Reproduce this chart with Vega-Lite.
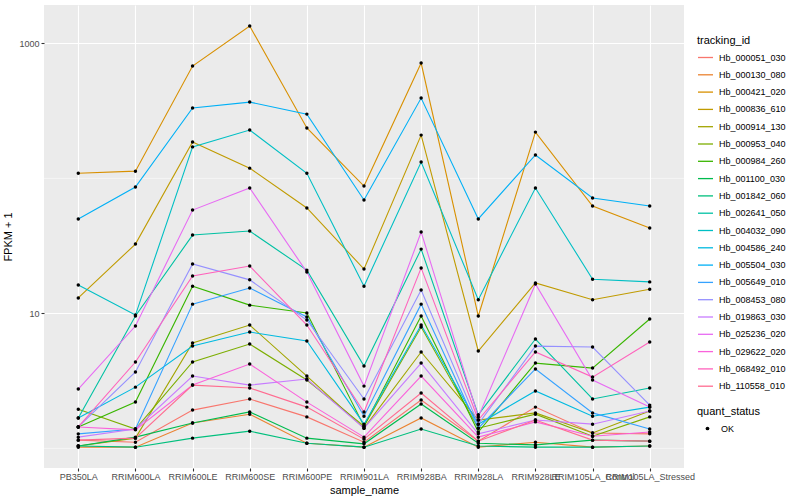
{
"$schema": "https://vega.github.io/schema/vega-lite/v6.json",
"width": 640, "height": 463,
"autosize": {"type": "none"},
"padding": {"left": 44, "top": 5, "right": 116, "bottom": 32},
"background": "white",
"config": {
  "font": "Liberation Sans",
  "view": {"fill": "#EBEBEB", "stroke": null},
  "axis": {"domain": false, "grid": true, "gridColor": "white", "gridWidth": 1.1, "tickColor": "#333333", "tickSize": 3, "tickWidth": 1.1, "labelColor": "#4D4D4D", "labelFontSize": 9, "titleFontSize": 11, "titleFontWeight": "normal", "titleColor": "black", "labelFont": "Liberation Sans", "titleFont": "Liberation Sans"},
  "legend": {"padding": 0, "labelFont": "Liberation Sans", "titleFont": "Liberation Sans", "labelFontSize": 9, "titleFontSize": 11, "titleFontWeight": "normal", "labelColor": "black", "titleColor": "black"}
},
"data": {"values": [
{"tracking_id":"Hb_000051_030","sample_name":"PB350LA","fpkm":1.15,"quant_status":"OK"},
{"tracking_id":"Hb_000051_030","sample_name":"RRIM600LA","fpkm":1.11,"quant_status":"OK"},
{"tracking_id":"Hb_000051_030","sample_name":"RRIM600LE","fpkm":1.92,"quant_status":"OK"},
{"tracking_id":"Hb_000051_030","sample_name":"RRIM600SE","fpkm":2.32,"quant_status":"OK"},
{"tracking_id":"Hb_000051_030","sample_name":"RRIM600PE","fpkm":1.71,"quant_status":"OK"},
{"tracking_id":"Hb_000051_030","sample_name":"RRIM901LA","fpkm":1.11,"quant_status":"OK"},
{"tracking_id":"Hb_000051_030","sample_name":"RRIM928BA","fpkm":2.28,"quant_status":"OK"},
{"tracking_id":"Hb_000051_030","sample_name":"RRIM928LA","fpkm":1.13,"quant_status":"OK"},
{"tracking_id":"Hb_000051_030","sample_name":"RRIM928LE","fpkm":2.02,"quant_status":"OK"},
{"tracking_id":"Hb_000051_030","sample_name":"RRIM105LA_Control","fpkm":1.30,"quant_status":"OK"},
{"tracking_id":"Hb_000051_030","sample_name":"RRIM105LA_Stressed","fpkm":1.28,"quant_status":"OK"},
{"tracking_id":"Hb_000130_080","sample_name":"PB350LA","fpkm":1.02,"quant_status":"OK"},
{"tracking_id":"Hb_000130_080","sample_name":"RRIM600LA","fpkm":1.02,"quant_status":"OK"},
{"tracking_id":"Hb_000130_080","sample_name":"RRIM600LE","fpkm":1.54,"quant_status":"OK"},
{"tracking_id":"Hb_000130_080","sample_name":"RRIM600SE","fpkm":1.79,"quant_status":"OK"},
{"tracking_id":"Hb_000130_080","sample_name":"RRIM600PE","fpkm":1.09,"quant_status":"OK"},
{"tracking_id":"Hb_000130_080","sample_name":"RRIM901LA","fpkm":1.02,"quant_status":"OK"},
{"tracking_id":"Hb_000130_080","sample_name":"RRIM928BA","fpkm":1.68,"quant_status":"OK"},
{"tracking_id":"Hb_000130_080","sample_name":"RRIM928LA","fpkm":1.02,"quant_status":"OK"},
{"tracking_id":"Hb_000130_080","sample_name":"RRIM928LE","fpkm":1.11,"quant_status":"OK"},
{"tracking_id":"Hb_000130_080","sample_name":"RRIM105LA_Control","fpkm":1.02,"quant_status":"OK"},
{"tracking_id":"Hb_000130_080","sample_name":"RRIM105LA_Stressed","fpkm":1.04,"quant_status":"OK"},
{"tracking_id":"Hb_000421_020","sample_name":"PB350LA","fpkm":109,"quant_status":"OK"},
{"tracking_id":"Hb_000421_020","sample_name":"RRIM600LA","fpkm":113,"quant_status":"OK"},
{"tracking_id":"Hb_000421_020","sample_name":"RRIM600LE","fpkm":679,"quant_status":"OK"},
{"tracking_id":"Hb_000421_020","sample_name":"RRIM600SE","fpkm":1343,"quant_status":"OK"},
{"tracking_id":"Hb_000421_020","sample_name":"RRIM600PE","fpkm":236,"quant_status":"OK"},
{"tracking_id":"Hb_000421_020","sample_name":"RRIM901LA","fpkm":87.7,"quant_status":"OK"},
{"tracking_id":"Hb_000421_020","sample_name":"RRIM928BA","fpkm":715,"quant_status":"OK"},
{"tracking_id":"Hb_000421_020","sample_name":"RRIM928LA","fpkm":9.55,"quant_status":"OK"},
{"tracking_id":"Hb_000421_020","sample_name":"RRIM928LE","fpkm":220,"quant_status":"OK"},
{"tracking_id":"Hb_000421_020","sample_name":"RRIM105LA_Control","fpkm":62.4,"quant_status":"OK"},
{"tracking_id":"Hb_000421_020","sample_name":"RRIM105LA_Stressed","fpkm":42.9,"quant_status":"OK"},
{"tracking_id":"Hb_000836_610","sample_name":"PB350LA","fpkm":13.0,"quant_status":"OK"},
{"tracking_id":"Hb_000836_610","sample_name":"RRIM600LA","fpkm":32.6,"quant_status":"OK"},
{"tracking_id":"Hb_000836_610","sample_name":"RRIM600LE","fpkm":186,"quant_status":"OK"},
{"tracking_id":"Hb_000836_610","sample_name":"RRIM600SE","fpkm":119,"quant_status":"OK"},
{"tracking_id":"Hb_000836_610","sample_name":"RRIM600PE","fpkm":60.3,"quant_status":"OK"},
{"tracking_id":"Hb_000836_610","sample_name":"RRIM901LA","fpkm":21.3,"quant_status":"OK"},
{"tracking_id":"Hb_000836_610","sample_name":"RRIM928BA","fpkm":209,"quant_status":"OK"},
{"tracking_id":"Hb_000836_610","sample_name":"RRIM928LA","fpkm":5.26,"quant_status":"OK"},
{"tracking_id":"Hb_000836_610","sample_name":"RRIM928LE","fpkm":16.8,"quant_status":"OK"},
{"tracking_id":"Hb_000836_610","sample_name":"RRIM105LA_Control","fpkm":12.6,"quant_status":"OK"},
{"tracking_id":"Hb_000836_610","sample_name":"RRIM105LA_Stressed","fpkm":15.1,"quant_status":"OK"},
{"tracking_id":"Hb_000914_130","sample_name":"PB350LA","fpkm":1.04,"quant_status":"OK"},
{"tracking_id":"Hb_000914_130","sample_name":"RRIM600LA","fpkm":1.19,"quant_status":"OK"},
{"tracking_id":"Hb_000914_130","sample_name":"RRIM600LE","fpkm":6.03,"quant_status":"OK"},
{"tracking_id":"Hb_000914_130","sample_name":"RRIM600SE","fpkm":8.19,"quant_status":"OK"},
{"tracking_id":"Hb_000914_130","sample_name":"RRIM600PE","fpkm":3.43,"quant_status":"OK"},
{"tracking_id":"Hb_000914_130","sample_name":"RRIM901LA","fpkm":1.41,"quant_status":"OK"},
{"tracking_id":"Hb_000914_130","sample_name":"RRIM928BA","fpkm":5.17,"quant_status":"OK"},
{"tracking_id":"Hb_000914_130","sample_name":"RRIM928LA","fpkm":1.62,"quant_status":"OK"},
{"tracking_id":"Hb_000914_130","sample_name":"RRIM928LE","fpkm":1.83,"quant_status":"OK"},
{"tracking_id":"Hb_000914_130","sample_name":"RRIM105LA_Control","fpkm":1.30,"quant_status":"OK"},
{"tracking_id":"Hb_000914_130","sample_name":"RRIM105LA_Stressed","fpkm":1.89,"quant_status":"OK"},
{"tracking_id":"Hb_000953_040","sample_name":"PB350LA","fpkm":1.95,"quant_status":"OK"},
{"tracking_id":"Hb_000953_040","sample_name":"RRIM600LA","fpkm":1.39,"quant_status":"OK"},
{"tracking_id":"Hb_000953_040","sample_name":"RRIM600LE","fpkm":4.36,"quant_status":"OK"},
{"tracking_id":"Hb_000953_040","sample_name":"RRIM600SE","fpkm":5.92,"quant_status":"OK"},
{"tracking_id":"Hb_000953_040","sample_name":"RRIM600PE","fpkm":3.21,"quant_status":"OK"},
{"tracking_id":"Hb_000953_040","sample_name":"RRIM901LA","fpkm":1.46,"quant_status":"OK"},
{"tracking_id":"Hb_000953_040","sample_name":"RRIM928BA","fpkm":7.92,"quant_status":"OK"},
{"tracking_id":"Hb_000953_040","sample_name":"RRIM928LA","fpkm":1.41,"quant_status":"OK"},
{"tracking_id":"Hb_000953_040","sample_name":"RRIM928LE","fpkm":1.79,"quant_status":"OK"},
{"tracking_id":"Hb_000953_040","sample_name":"RRIM105LA_Control","fpkm":1.23,"quant_status":"OK"},
{"tracking_id":"Hb_000953_040","sample_name":"RRIM105LA_Stressed","fpkm":1.71,"quant_status":"OK"},
{"tracking_id":"Hb_000984_260","sample_name":"PB350LA","fpkm":1.44,"quant_status":"OK"},
{"tracking_id":"Hb_000984_260","sample_name":"RRIM600LA","fpkm":2.20,"quant_status":"OK"},
{"tracking_id":"Hb_000984_260","sample_name":"RRIM600LE","fpkm":15.9,"quant_status":"OK"},
{"tracking_id":"Hb_000984_260","sample_name":"RRIM600SE","fpkm":11.5,"quant_status":"OK"},
{"tracking_id":"Hb_000984_260","sample_name":"RRIM600PE","fpkm":10.05,"quant_status":"OK"},
{"tracking_id":"Hb_000984_260","sample_name":"RRIM901LA","fpkm":1.46,"quant_status":"OK"},
{"tracking_id":"Hb_000984_260","sample_name":"RRIM928BA","fpkm":9.55,"quant_status":"OK"},
{"tracking_id":"Hb_000984_260","sample_name":"RRIM928LA","fpkm":1.32,"quant_status":"OK"},
{"tracking_id":"Hb_000984_260","sample_name":"RRIM928LE","fpkm":4.28,"quant_status":"OK"},
{"tracking_id":"Hb_000984_260","sample_name":"RRIM105LA_Control","fpkm":3.93,"quant_status":"OK"},
{"tracking_id":"Hb_000984_260","sample_name":"RRIM105LA_Stressed","fpkm":9.08,"quant_status":"OK"},
{"tracking_id":"Hb_001100_030","sample_name":"PB350LA","fpkm":1.04,"quant_status":"OK"},
{"tracking_id":"Hb_001100_030","sample_name":"RRIM600LA","fpkm":1.21,"quant_status":"OK"},
{"tracking_id":"Hb_001100_030","sample_name":"RRIM600LE","fpkm":1.54,"quant_status":"OK"},
{"tracking_id":"Hb_001100_030","sample_name":"RRIM600SE","fpkm":1.86,"quant_status":"OK"},
{"tracking_id":"Hb_001100_030","sample_name":"RRIM600PE","fpkm":1.19,"quant_status":"OK"},
{"tracking_id":"Hb_001100_030","sample_name":"RRIM901LA","fpkm":1.08,"quant_status":"OK"},
{"tracking_id":"Hb_001100_030","sample_name":"RRIM928BA","fpkm":2.13,"quant_status":"OK"},
{"tracking_id":"Hb_001100_030","sample_name":"RRIM928LA","fpkm":1.09,"quant_status":"OK"},
{"tracking_id":"Hb_001100_030","sample_name":"RRIM928LE","fpkm":1.06,"quant_status":"OK"},
{"tracking_id":"Hb_001100_030","sample_name":"RRIM105LA_Control","fpkm":1.15,"quant_status":"OK"},
{"tracking_id":"Hb_001100_030","sample_name":"RRIM105LA_Stressed","fpkm":1.13,"quant_status":"OK"},
{"tracking_id":"Hb_001842_060","sample_name":"PB350LA","fpkm":1.04,"quant_status":"OK"},
{"tracking_id":"Hb_001842_060","sample_name":"RRIM600LA","fpkm":1.02,"quant_status":"OK"},
{"tracking_id":"Hb_001842_060","sample_name":"RRIM600LE","fpkm":1.19,"quant_status":"OK"},
{"tracking_id":"Hb_001842_060","sample_name":"RRIM600SE","fpkm":1.34,"quant_status":"OK"},
{"tracking_id":"Hb_001842_060","sample_name":"RRIM600PE","fpkm":1.09,"quant_status":"OK"},
{"tracking_id":"Hb_001842_060","sample_name":"RRIM901LA","fpkm":1.02,"quant_status":"OK"},
{"tracking_id":"Hb_001842_060","sample_name":"RRIM928BA","fpkm":1.39,"quant_status":"OK"},
{"tracking_id":"Hb_001842_060","sample_name":"RRIM928LA","fpkm":1.04,"quant_status":"OK"},
{"tracking_id":"Hb_001842_060","sample_name":"RRIM928LE","fpkm":1.02,"quant_status":"OK"},
{"tracking_id":"Hb_001842_060","sample_name":"RRIM105LA_Control","fpkm":1.02,"quant_status":"OK"},
{"tracking_id":"Hb_001842_060","sample_name":"RRIM105LA_Stressed","fpkm":1.04,"quant_status":"OK"},
{"tracking_id":"Hb_002641_050","sample_name":"PB350LA","fpkm":1.68,"quant_status":"OK"},
{"tracking_id":"Hb_002641_050","sample_name":"RRIM600LA","fpkm":9.55,"quant_status":"OK"},
{"tracking_id":"Hb_002641_050","sample_name":"RRIM600LE","fpkm":38.0,"quant_status":"OK"},
{"tracking_id":"Hb_002641_050","sample_name":"RRIM600SE","fpkm":40.7,"quant_status":"OK"},
{"tracking_id":"Hb_002641_050","sample_name":"RRIM600PE","fpkm":20.9,"quant_status":"OK"},
{"tracking_id":"Hb_002641_050","sample_name":"RRIM901LA","fpkm":4.07,"quant_status":"OK"},
{"tracking_id":"Hb_002641_050","sample_name":"RRIM928BA","fpkm":29.9,"quant_status":"OK"},
{"tracking_id":"Hb_002641_050","sample_name":"RRIM928LA","fpkm":1.77,"quant_status":"OK"},
{"tracking_id":"Hb_002641_050","sample_name":"RRIM928LE","fpkm":6.45,"quant_status":"OK"},
{"tracking_id":"Hb_002641_050","sample_name":"RRIM105LA_Control","fpkm":2.32,"quant_status":"OK"},
{"tracking_id":"Hb_002641_050","sample_name":"RRIM105LA_Stressed","fpkm":2.80,"quant_status":"OK"},
{"tracking_id":"Hb_004032_090","sample_name":"PB350LA","fpkm":16.2,"quant_status":"OK"},
{"tracking_id":"Hb_004032_090","sample_name":"RRIM600LA","fpkm":9.71,"quant_status":"OK"},
{"tracking_id":"Hb_004032_090","sample_name":"RRIM600LE","fpkm":171,"quant_status":"OK"},
{"tracking_id":"Hb_004032_090","sample_name":"RRIM600SE","fpkm":228,"quant_status":"OK"},
{"tracking_id":"Hb_004032_090","sample_name":"RRIM600PE","fpkm":109,"quant_status":"OK"},
{"tracking_id":"Hb_004032_090","sample_name":"RRIM901LA","fpkm":15.9,"quant_status":"OK"},
{"tracking_id":"Hb_004032_090","sample_name":"RRIM928BA","fpkm":132,"quant_status":"OK"},
{"tracking_id":"Hb_004032_090","sample_name":"RRIM928LA","fpkm":12.6,"quant_status":"OK"},
{"tracking_id":"Hb_004032_090","sample_name":"RRIM928LE","fpkm":84.8,"quant_status":"OK"},
{"tracking_id":"Hb_004032_090","sample_name":"RRIM105LA_Control","fpkm":17.9,"quant_status":"OK"},
{"tracking_id":"Hb_004032_090","sample_name":"RRIM105LA_Stressed","fpkm":17.1,"quant_status":"OK"},
{"tracking_id":"Hb_004586_240","sample_name":"PB350LA","fpkm":1.68,"quant_status":"OK"},
{"tracking_id":"Hb_004586_240","sample_name":"RRIM600LA","fpkm":2.84,"quant_status":"OK"},
{"tracking_id":"Hb_004586_240","sample_name":"RRIM600LE","fpkm":5.72,"quant_status":"OK"},
{"tracking_id":"Hb_004586_240","sample_name":"RRIM600SE","fpkm":7.27,"quant_status":"OK"},
{"tracking_id":"Hb_004586_240","sample_name":"RRIM600PE","fpkm":6.24,"quant_status":"OK"},
{"tracking_id":"Hb_004586_240","sample_name":"RRIM901LA","fpkm":1.51,"quant_status":"OK"},
{"tracking_id":"Hb_004586_240","sample_name":"RRIM928BA","fpkm":8.19,"quant_status":"OK"},
{"tracking_id":"Hb_004586_240","sample_name":"RRIM928LA","fpkm":1.51,"quant_status":"OK"},
{"tracking_id":"Hb_004586_240","sample_name":"RRIM928LE","fpkm":2.66,"quant_status":"OK"},
{"tracking_id":"Hb_004586_240","sample_name":"RRIM105LA_Control","fpkm":1.73,"quant_status":"OK"},
{"tracking_id":"Hb_004586_240","sample_name":"RRIM105LA_Stressed","fpkm":2.02,"quant_status":"OK"},
{"tracking_id":"Hb_005504_030","sample_name":"PB350LA","fpkm":50.0,"quant_status":"OK"},
{"tracking_id":"Hb_005504_030","sample_name":"RRIM600LA","fpkm":86.2,"quant_status":"OK"},
{"tracking_id":"Hb_005504_030","sample_name":"RRIM600LE","fpkm":332,"quant_status":"OK"},
{"tracking_id":"Hb_005504_030","sample_name":"RRIM600SE","fpkm":367,"quant_status":"OK"},
{"tracking_id":"Hb_005504_030","sample_name":"RRIM600PE","fpkm":299,"quant_status":"OK"},
{"tracking_id":"Hb_005504_030","sample_name":"RRIM901LA","fpkm":69.1,"quant_status":"OK"},
{"tracking_id":"Hb_005504_030","sample_name":"RRIM928BA","fpkm":393,"quant_status":"OK"},
{"tracking_id":"Hb_005504_030","sample_name":"RRIM928LA","fpkm":50.0,"quant_status":"OK"},
{"tracking_id":"Hb_005504_030","sample_name":"RRIM928LE","fpkm":149,"quant_status":"OK"},
{"tracking_id":"Hb_005504_030","sample_name":"RRIM105LA_Control","fpkm":71.5,"quant_status":"OK"},
{"tracking_id":"Hb_005504_030","sample_name":"RRIM105LA_Stressed","fpkm":62.4,"quant_status":"OK"},
{"tracking_id":"Hb_005649_010","sample_name":"PB350LA","fpkm":1.28,"quant_status":"OK"},
{"tracking_id":"Hb_005649_010","sample_name":"RRIM600LA","fpkm":1.39,"quant_status":"OK"},
{"tracking_id":"Hb_005649_010","sample_name":"RRIM600LE","fpkm":11.7,"quant_status":"OK"},
{"tracking_id":"Hb_005649_010","sample_name":"RRIM600SE","fpkm":15.4,"quant_status":"OK"},
{"tracking_id":"Hb_005649_010","sample_name":"RRIM600PE","fpkm":9.39,"quant_status":"OK"},
{"tracking_id":"Hb_005649_010","sample_name":"RRIM901LA","fpkm":1.73,"quant_status":"OK"},
{"tracking_id":"Hb_005649_010","sample_name":"RRIM928BA","fpkm":11.7,"quant_status":"OK"},
{"tracking_id":"Hb_005649_010","sample_name":"RRIM928LA","fpkm":1.41,"quant_status":"OK"},
{"tracking_id":"Hb_005649_010","sample_name":"RRIM928LE","fpkm":3.87,"quant_status":"OK"},
{"tracking_id":"Hb_005649_010","sample_name":"RRIM105LA_Control","fpkm":1.83,"quant_status":"OK"},
{"tracking_id":"Hb_005649_010","sample_name":"RRIM105LA_Stressed","fpkm":1.39,"quant_status":"OK"},
{"tracking_id":"Hb_008453_080","sample_name":"PB350LA","fpkm":1.44,"quant_status":"OK"},
{"tracking_id":"Hb_008453_080","sample_name":"RRIM600LA","fpkm":3.68,"quant_status":"OK"},
{"tracking_id":"Hb_008453_080","sample_name":"RRIM600LE","fpkm":23.2,"quant_status":"OK"},
{"tracking_id":"Hb_008453_080","sample_name":"RRIM600SE","fpkm":17.7,"quant_status":"OK"},
{"tracking_id":"Hb_008453_080","sample_name":"RRIM600PE","fpkm":8.92,"quant_status":"OK"},
{"tracking_id":"Hb_008453_080","sample_name":"RRIM901LA","fpkm":2.32,"quant_status":"OK"},
{"tracking_id":"Hb_008453_080","sample_name":"RRIM928BA","fpkm":14.9,"quant_status":"OK"},
{"tracking_id":"Hb_008453_080","sample_name":"RRIM928LA","fpkm":1.51,"quant_status":"OK"},
{"tracking_id":"Hb_008453_080","sample_name":"RRIM928LE","fpkm":5.72,"quant_status":"OK"},
{"tracking_id":"Hb_008453_080","sample_name":"RRIM105LA_Control","fpkm":5.63,"quant_status":"OK"},
{"tracking_id":"Hb_008453_080","sample_name":"RRIM105LA_Stressed","fpkm":2.09,"quant_status":"OK"},
{"tracking_id":"Hb_019863_030","sample_name":"PB350LA","fpkm":1.21,"quant_status":"OK"},
{"tracking_id":"Hb_019863_030","sample_name":"RRIM600LA","fpkm":1.39,"quant_status":"OK"},
{"tracking_id":"Hb_019863_030","sample_name":"RRIM600LE","fpkm":3.43,"quant_status":"OK"},
{"tracking_id":"Hb_019863_030","sample_name":"RRIM600SE","fpkm":2.94,"quant_status":"OK"},
{"tracking_id":"Hb_019863_030","sample_name":"RRIM600PE","fpkm":3.26,"quant_status":"OK"},
{"tracking_id":"Hb_019863_030","sample_name":"RRIM901LA","fpkm":1.41,"quant_status":"OK"},
{"tracking_id":"Hb_019863_030","sample_name":"RRIM928BA","fpkm":4.28,"quant_status":"OK"},
{"tracking_id":"Hb_019863_030","sample_name":"RRIM928LA","fpkm":1.28,"quant_status":"OK"},
{"tracking_id":"Hb_019863_030","sample_name":"RRIM928LE","fpkm":1.62,"quant_status":"OK"},
{"tracking_id":"Hb_019863_030","sample_name":"RRIM105LA_Control","fpkm":1.51,"quant_status":"OK"},
{"tracking_id":"Hb_019863_030","sample_name":"RRIM105LA_Stressed","fpkm":1.89,"quant_status":"OK"},
{"tracking_id":"Hb_025236_020","sample_name":"PB350LA","fpkm":2.75,"quant_status":"OK"},
{"tracking_id":"Hb_025236_020","sample_name":"RRIM600LA","fpkm":8.05,"quant_status":"OK"},
{"tracking_id":"Hb_025236_020","sample_name":"RRIM600LE","fpkm":58.2,"quant_status":"OK"},
{"tracking_id":"Hb_025236_020","sample_name":"RRIM600SE","fpkm":84.8,"quant_status":"OK"},
{"tracking_id":"Hb_025236_020","sample_name":"RRIM600PE","fpkm":20.2,"quant_status":"OK"},
{"tracking_id":"Hb_025236_020","sample_name":"RRIM901LA","fpkm":2.89,"quant_status":"OK"},
{"tracking_id":"Hb_025236_020","sample_name":"RRIM928BA","fpkm":40.0,"quant_status":"OK"},
{"tracking_id":"Hb_025236_020","sample_name":"RRIM928LA","fpkm":1.71,"quant_status":"OK"},
{"tracking_id":"Hb_025236_020","sample_name":"RRIM928LE","fpkm":16.5,"quant_status":"OK"},
{"tracking_id":"Hb_025236_020","sample_name":"RRIM105LA_Control","fpkm":3.21,"quant_status":"OK"},
{"tracking_id":"Hb_025236_020","sample_name":"RRIM105LA_Stressed","fpkm":2.02,"quant_status":"OK"},
{"tracking_id":"Hb_029622_020","sample_name":"PB350LA","fpkm":1.44,"quant_status":"OK"},
{"tracking_id":"Hb_029622_020","sample_name":"RRIM600LA","fpkm":1.37,"quant_status":"OK"},
{"tracking_id":"Hb_029622_020","sample_name":"RRIM600LE","fpkm":2.94,"quant_status":"OK"},
{"tracking_id":"Hb_029622_020","sample_name":"RRIM600SE","fpkm":4.21,"quant_status":"OK"},
{"tracking_id":"Hb_029622_020","sample_name":"RRIM600PE","fpkm":2.20,"quant_status":"OK"},
{"tracking_id":"Hb_029622_020","sample_name":"RRIM901LA","fpkm":1.21,"quant_status":"OK"},
{"tracking_id":"Hb_029622_020","sample_name":"RRIM928BA","fpkm":3.43,"quant_status":"OK"},
{"tracking_id":"Hb_029622_020","sample_name":"RRIM928LA","fpkm":1.21,"quant_status":"OK"},
{"tracking_id":"Hb_029622_020","sample_name":"RRIM928LE","fpkm":1.57,"quant_status":"OK"},
{"tracking_id":"Hb_029622_020","sample_name":"RRIM105LA_Control","fpkm":1.23,"quant_status":"OK"},
{"tracking_id":"Hb_029622_020","sample_name":"RRIM105LA_Stressed","fpkm":1.32,"quant_status":"OK"},
{"tracking_id":"Hb_068492_010","sample_name":"PB350LA","fpkm":1.44,"quant_status":"OK"},
{"tracking_id":"Hb_068492_010","sample_name":"RRIM600LA","fpkm":4.36,"quant_status":"OK"},
{"tracking_id":"Hb_068492_010","sample_name":"RRIM600LE","fpkm":18.9,"quant_status":"OK"},
{"tracking_id":"Hb_068492_010","sample_name":"RRIM600SE","fpkm":22.4,"quant_status":"OK"},
{"tracking_id":"Hb_068492_010","sample_name":"RRIM600PE","fpkm":8.19,"quant_status":"OK"},
{"tracking_id":"Hb_068492_010","sample_name":"RRIM901LA","fpkm":1.86,"quant_status":"OK"},
{"tracking_id":"Hb_068492_010","sample_name":"RRIM928BA","fpkm":21.7,"quant_status":"OK"},
{"tracking_id":"Hb_068492_010","sample_name":"RRIM928LA","fpkm":1.62,"quant_status":"OK"},
{"tracking_id":"Hb_068492_010","sample_name":"RRIM928LE","fpkm":5.17,"quant_status":"OK"},
{"tracking_id":"Hb_068492_010","sample_name":"RRIM105LA_Control","fpkm":3.37,"quant_status":"OK"},
{"tracking_id":"Hb_068492_010","sample_name":"RRIM105LA_Stressed","fpkm":6.13,"quant_status":"OK"},
{"tracking_id":"Hb_110558_010","sample_name":"PB350LA","fpkm":1.15,"quant_status":"OK"},
{"tracking_id":"Hb_110558_010","sample_name":"RRIM600LA","fpkm":1.19,"quant_status":"OK"},
{"tracking_id":"Hb_110558_010","sample_name":"RRIM600LE","fpkm":2.94,"quant_status":"OK"},
{"tracking_id":"Hb_110558_010","sample_name":"RRIM600SE","fpkm":2.80,"quant_status":"OK"},
{"tracking_id":"Hb_110558_010","sample_name":"RRIM600PE","fpkm":2.02,"quant_status":"OK"},
{"tracking_id":"Hb_110558_010","sample_name":"RRIM901LA","fpkm":1.17,"quant_status":"OK"},
{"tracking_id":"Hb_110558_010","sample_name":"RRIM928BA","fpkm":2.57,"quant_status":"OK"},
{"tracking_id":"Hb_110558_010","sample_name":"RRIM928LA","fpkm":1.13,"quant_status":"OK"},
{"tracking_id":"Hb_110558_010","sample_name":"RRIM928LE","fpkm":1.62,"quant_status":"OK"},
{"tracking_id":"Hb_110558_010","sample_name":"RRIM105LA_Control","fpkm":1.15,"quant_status":"OK"},
{"tracking_id":"Hb_110558_010","sample_name":"RRIM105LA_Stressed","fpkm":1.13,"quant_status":"OK"}
]},
"encoding": {
  "y": {"field": "fpkm", "type": "quantitative", "title": "FPKM + 1",
        "scale": {"type": "log", "domain": [0.715, 1923], "nice": false, "zero": false},
        "axis": {"values": [10, 1000], "format": "d", "titlePadding": 5, "labelPadding": 2}}
},
"layer": [
  {"data": {"values": [{"fpkm": 1}, {"fpkm": 100}]},
   "mark": {"type": "rule", "color": "white", "strokeWidth": 0.55}},
  {"mark": {"type": "line", "strokeWidth": 1.1},
   "encoding": {
     "x": {"field": "sample_name", "type": "nominal", "title": "sample_name",
           "scale": {"type": "point", "padding": 0.6, "domain": ["PB350LA","RRIM600LA","RRIM600LE","RRIM600SE","RRIM600PE","RRIM901LA","RRIM928BA","RRIM928LA","RRIM928LE","RRIM105LA_Control","RRIM105LA_Stressed"]},
           "axis": {"labelAngle": 0, "labelOverlap": false, "labelBound": false, "labelFlush": false, "labelPadding": 1, "titlePadding": 3}},
     "color": {"field": "tracking_id", "type": "nominal", "title": "tracking_id",
       "scale": {"domain": ["Hb_000051_030","Hb_000130_080","Hb_000421_020","Hb_000836_610","Hb_000914_130","Hb_000953_040","Hb_000984_260","Hb_001100_030","Hb_001842_060","Hb_002641_050","Hb_004032_090","Hb_004586_240","Hb_005504_030","Hb_005649_010","Hb_008453_080","Hb_019863_030","Hb_025236_020","Hb_029622_020","Hb_068492_010","Hb_110558_010"],
                 "range": ["#F8766D","#EA8331","#D89000","#C09B00","#A3A500","#7CAE00","#39B600","#00BB4E","#00BF7D","#00C1A3","#00BFC4","#00BAE0","#00B0F6","#35A2FF","#9590FF","#C77CFF","#E76BF3","#FA62DB","#FF62BC","#FF6C91"]},
       "legend": {"orient": "none", "legendX": 653, "legendY": 30, "symbolType": "stroke", "symbolSize": 225, "symbolStrokeWidth": 1.3, "rowPadding": 3.3, "titlePadding": 3, "labelOffset": 5}},
     "order": {"value": null}
   }},
  {"mark": {"type": "point", "filled": true, "color": "black", "size": 12, "opacity": 1},
   "encoding": {
     "x": {"field": "sample_name", "type": "nominal"},
     "shape": {"field": "quant_status", "type": "nominal", "title": "quant_status",
       "scale": {"domain": ["OK"], "range": ["circle"]},
       "legend": {"orient": "none", "legendX": 653, "legendY": 401, "symbolSize": 14, "symbolFillColor": "black", "symbolStrokeColor": "black", "symbolOffset": 6, "labelOffset": 9, "titlePadding": 7}}
   }}
]
}
